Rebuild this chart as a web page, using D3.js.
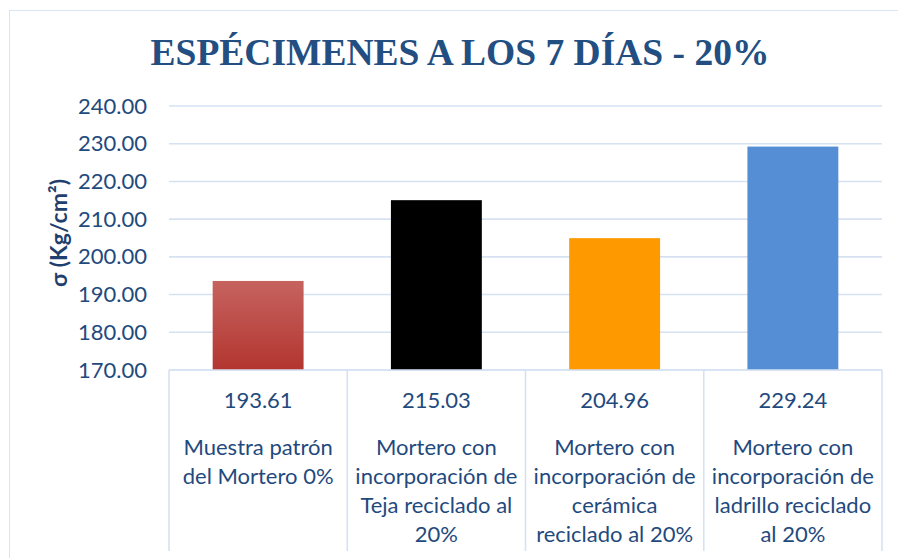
<script src="https://d3js.org/d3.v7.min.js"></script>

<style>
  body { margin: 0; background: #fff; }
  text { font-family: Lato, "Open Sans", sans-serif; }
</style>

<div id="container"></div>

<script>
var categories = [
  ["Muestra patrón", "del Mortero 0%"],
  ["Mortero con", "incorporación de", "Teja reciclado al", "20%"],
  ["Mortero con", "incorporación de", "cerámica", "reciclado al 20%"],
  ["Mortero con", "incorporación de", "ladrillo reciclado", "al 20%"]
];
var values = [193.61, 215.03, 204.96, 229.24];
var valueLabels = ["193.61", "215.03", "204.96", "229.24"];
var yTicks = [170, 180, 190, 200, 210, 220, 230, 240];
var barColors = ["url(#redGrad)", "#000000", "#fe9900", "#558ed5"];

var W = 898, H = 558;
var plotLeft = 169, plotRight = 882, plotTop = 106, plotBottom = 370;

var svg = d3.select("#container").append("svg")
  .attr("width", W)
  .attr("height", H);

// gradient for the first bar
var grad = svg.append("defs").append("linearGradient")
  .attr("id", "redGrad")
  .attr("x1", 0).attr("y1", 0).attr("x2", 0).attr("y2", 1);
grad.append("stop").attr("offset", "0%").attr("stop-color", "#c6635f");
grad.append("stop").attr("offset", "100%").attr("stop-color", "#b3352f");

// outer chart border
svg.append("rect")
  .attr("x", 9.5).attr("y", 10.5)
  .attr("width", W + 20).attr("height", H + 20)
  .attr("fill", "none")
  .attr("stroke", "#d9e5f4")
  .attr("stroke-width", 1);

// title
svg.append("text")
  .attr("x", 460)
  .attr("y", 65)
  .attr("text-anchor", "middle")
  .style("font-family", "'Liberation Serif', 'Times New Roman', serif")
  .style("font-weight", "bold")
  .style("font-size", "37.5px")
  .style("fill", "#234e82")
  .text("ESPÉCIMENES A LOS 7 DÍAS - 20%");

var xscale = d3.scaleBand()
  .domain(d3.range(categories.length))
  .range([plotLeft, plotRight])
  .padding(0);

var yscale = d3.scaleLinear()
  .domain([170, 240])
  .range([plotBottom, plotTop]);

// gridlines
svg.append("g")
  .selectAll("line")
  .data(yTicks)
  .enter()
  .append("line")
    .attr("x1", plotLeft)
    .attr("x2", plotRight)
    .attr("y1", function (d) { return yscale(d); })
    .attr("y2", function (d) { return yscale(d); })
    .attr("stroke", "#d6e2f2")
    .attr("stroke-width", 1.6);

// y axis labels
var yAxis = d3.axisLeft(yscale)
  .tickValues(yTicks)
  .tickSize(0)
  .tickPadding(22)
  .tickFormat(d3.format(".2f"));
var yg = svg.append("g")
  .attr("transform", "translate(" + plotLeft + ",0)")
  .call(yAxis);
yg.select(".domain").remove();
yg.selectAll("text")
  .style("font-family", "Lato, 'Open Sans', sans-serif")
  .style("font-size", "22px")
  .style("fill", "#1f4a7e");

// y axis title
svg.append("text")
  .attr("transform", "translate(67,233) rotate(-90)")
  .attr("text-anchor", "middle")
  .style("font-size", "23px")
  .style("font-weight", "bold")
  .style("fill", "#1f3f6e")
  .text("σ (Kg/cm²)");

// bars
var barW = xscale.bandwidth() * 0.51;
svg.append("g")
  .selectAll("rect")
  .data(values)
  .enter()
  .append("rect")
    .attr("x", function (d, i) { return xscale(i) + (xscale.bandwidth() - barW) / 2; })
    .attr("y", function (d) { return yscale(d); })
    .attr("width", barW)
    .attr("height", function (d) { return plotBottom - yscale(d); })
    .attr("fill", function (d, i) { return barColors[i]; });

// data table under the axis
var table = svg.append("g");
table.append("line")
  .attr("x1", plotLeft).attr("x2", plotRight)
  .attr("y1", plotBottom).attr("y2", plotBottom)
  .attr("stroke", "#d6e2f2").attr("stroke-width", 1.6);
table.selectAll(".vline")
  .data(d3.range(categories.length + 1))
  .enter()
  .append("line")
    .attr("class", "vline")
    .attr("x1", function (i) { return plotLeft + i * xscale.bandwidth(); })
    .attr("x2", function (i) { return plotLeft + i * xscale.bandwidth(); })
    .attr("y1", plotBottom)
    .attr("y2", 551)
    .attr("stroke", "#d6e2f2")
    .attr("stroke-width", 1.6);

table.selectAll(".val")
  .data(valueLabels)
  .enter()
  .append("text")
    .attr("class", "val")
    .attr("x", function (d, i) { return xscale(i) + xscale.bandwidth() / 2; })
    .attr("y", 408)
    .attr("text-anchor", "middle")
    .style("font-size", "22px")
    .style("fill", "#1f4a7e")
    .text(function (d) { return d; });

var catText = table.selectAll(".cat")
  .data(categories)
  .enter()
  .append("text")
    .attr("class", "cat")
    .attr("text-anchor", "middle")
    .style("font-size", "22px")
    .style("fill", "#1f4a7e");
catText.selectAll("tspan")
  .data(function (d, i) { return d.map(function (t) { return { t: t, i: i }; }); })
  .enter()
  .append("tspan")
    .attr("x", function (d) { return xscale(d.i) + xscale.bandwidth() / 2; })
    .attr("y", function (d, j) { return 455 + j * 29; })
    .text(function (d) { return d.t; });
</script>
